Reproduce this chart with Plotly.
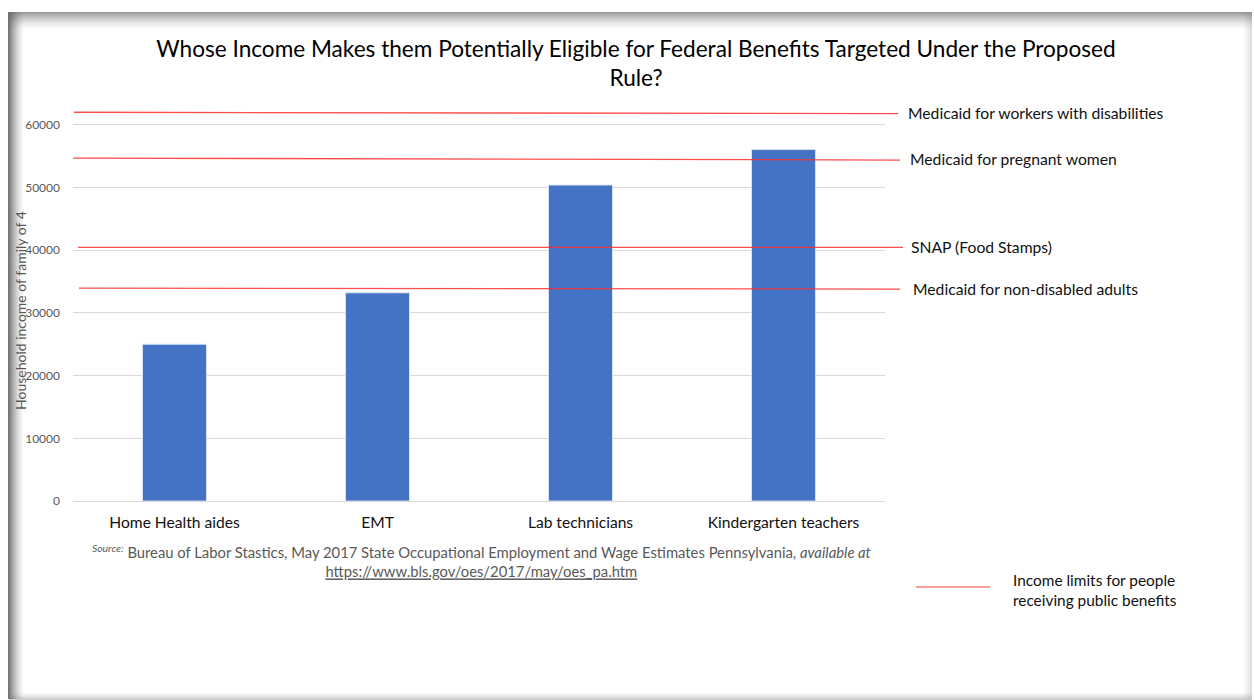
import plotly.graph_objects as go

# ---- data ----
occupations = ["Home Health aides", "EMT", "Lab technicians", "Kindergarten teachers"]
household_income = [25000, 33200, 50400, 56050]

limit_names = ["Medicaid for workers with disabilities", "Medicaid for pregnant women",
               "SNAP (Food Stamps)", "Medicaid for non-disabled adults"]
limit_left = [62000, 54700, 40450, 33950]    # value at left end of hand-drawn line
limit_right = [61780, 54380, 40450, 33800]   # value at right end of hand-drawn line
y_ticks = [0, 10000, 20000, 30000, 40000, 50000, 60000]

# ---- geometry helpers (pixel -> paper) ----
W, H = 1254, 700
ML, MR, MT, MB = 73, 369, 106, 199
PW, PH = W - ML - MR, H - MT - MB
def px(x):
    return (x - ML) / PW
def py(y):
    return 1 - (y - MT) / PH

fig = go.Figure()
fig.add_trace(go.Bar(
    x=occupations, y=household_income, width=0.315,
    marker=dict(color="#4472C4", line=dict(color="rgba(220,230,245,0.9)", width=1)),
    hoverinfo="x+y",
))

shapes = []
# frame shadow
for i in range(16):
    a = 0.8 * (1 - i / 16) ** 1.5
    shapes.append(dict(type="rect", xref="paper", yref="paper", layer="below",
                       x0=px(8 + i), x1=px(9 + i), y0=py(12), y1=py(699),
                       fillcolor=f"rgba(80,80,80,{a:.3f})", line=dict(width=0)))
for i in range(18):
    a = 0.6 * (1 - i / 18) ** 1.6
    shapes.append(dict(type="rect", xref="paper", yref="paper", layer="below",
                       x0=px(9 + 0), x1=px(1252), y0=py(12 + i), y1=py(13 + i),
                       fillcolor=f"rgba(90,90,90,{a:.3f})", line=dict(width=0)))
for i in range(10):
    a = 0.25 * (1 - i / 10) ** 1.5
    shapes.append(dict(type="rect", xref="paper", yref="paper", layer="below",
                       x0=px(1251 - i), x1=px(1252 - i), y0=py(12), y1=py(699),
                       fillcolor=f"rgba(120,120,120,{a:.3f})", line=dict(width=0)))
for i in range(8):
    a = 0.35 * (1 - i / 8) ** 1.5
    shapes.append(dict(type="rect", xref="paper", yref="paper", layer="below",
                       x0=px(9), x1=px(1252), y0=py(699 - i), y1=py(700 - i),
                       fillcolor=f"rgba(110,110,110,{a:.3f})", line=dict(width=0)))

# income-limit lines
x_left = [74, 73, 78, 79]
x_right = [898, 900, 903, 900]
for i in range(len(limit_names)):
    shapes.append(dict(type="line", xref="paper", yref="y", layer="above",
                       x0=px(x_left[i]), x1=px(x_right[i]),
                       y0=limit_left[i], y1=limit_right[i],
                       line=dict(color="rgba(255,45,45,0.85)", width=1.3)))
# legend line
shapes.append(dict(type="line", xref="paper", yref="paper",
                   x0=px(916), x1=px(990), y0=py(587), y1=py(587),
                   line=dict(color="rgba(235,40,40,0.9)", width=1.2)))

annotations = []
label_x = [906, 908, 909, 911]
for i, name in enumerate(limit_names):
    annotations.append(dict(xref="paper", yref="y", x=px(label_x[i]),
                            y=(limit_left[i] + limit_right[i]) / 2,
                            text=name, showarrow=False, xanchor="left", yanchor="middle",
                            font=dict(family="Lato", size=15.7, color="#111111")))
annotations.append(dict(xref="paper", yref="paper", x=px(20), y=py(311),
                        xanchor="center", yanchor="middle",
                        text="Household income of family of 4", textangle=-90,
                        showarrow=False, font=dict(family="Lato", size=14, color="#595959")))
annotations.append(dict(xref="paper", yref="paper", x=px(481), y=py(561),
                        text="<sup><i>Source:</i></sup> Bureau of Labor Stastics, May 2017 State Occupational "
                             "Employment and Wage Estimates Pennsylvania, <i>available at</i><br>"
                             "<u>https://www.bls.gov/oes/2017/may/oes_pa.htm</u>",
                        showarrow=False, align="center", xanchor="center", yanchor="middle",
                        font=dict(family="Lato", size=14.8, color="#595959")))
annotations.append(dict(xref="paper", yref="paper", x=px(1011), y=py(590),
                        text="Income limits for people<br>receiving public benefits",
                        showarrow=False, align="left", xanchor="left", yanchor="middle",
                        font=dict(family="Lato", size=15.4, color="#111111")))

fig.update_layout(
    width=W, height=H,
    margin=dict(l=ML, r=MR, t=MT, b=MB),
    paper_bgcolor="white", plot_bgcolor="white",
    showlegend=False,
    title=dict(text="Whose Income Makes them Potentially Eligible for Federal Benefits Targeted Under the Proposed<br>Rule?",
               xref="container", yref="container",
               x=636 / W, xanchor="center", y=1 - 57 / H, yanchor="middle",
               font=dict(family="Lato", size=22.6, color="#000000")),
    xaxis=dict(showgrid=False, showline=False, ticks="", ticklabelstandoff=10,
               tickfont=dict(family="Lato", size=15.6, color="#111111")),
    yaxis=dict(range=[0, 63000], tickvals=y_ticks, tickformat="d", showgrid=True,
               gridcolor="#d9d9d9", gridwidth=1, zeroline=True, zerolinecolor="#d9d9d9",
               zerolinewidth=1, showline=False, ticks="", ticklabelstandoff=12,
               tickfont=dict(family="Lato", size=12, color="#595959")),
    shapes=shapes, annotations=annotations,
)

fig.write_html("out.html")
